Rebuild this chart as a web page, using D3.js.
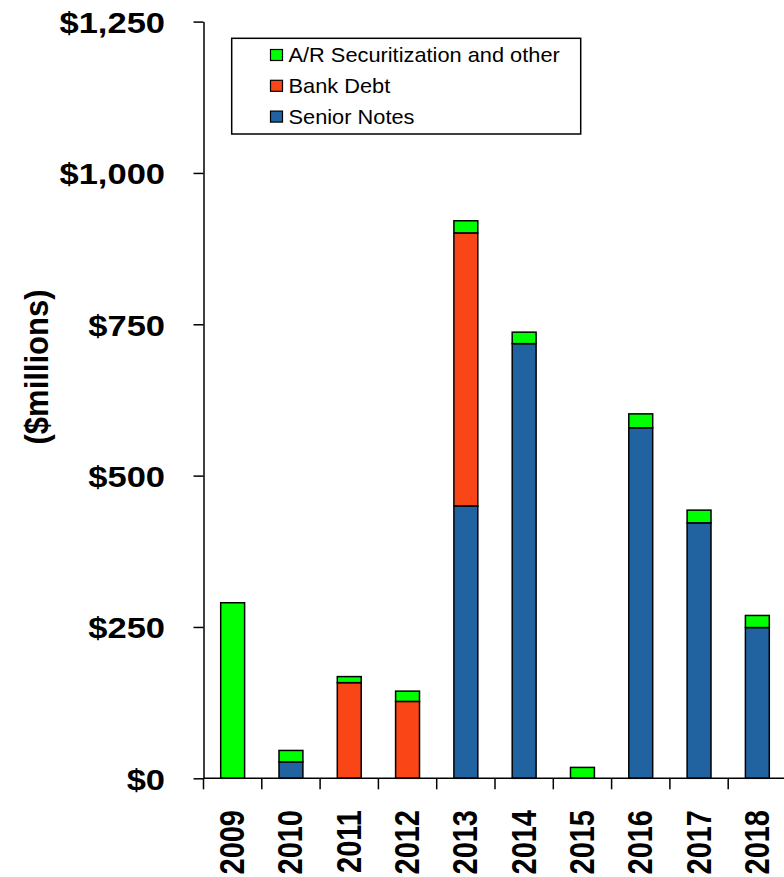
<!DOCTYPE html>
<html>
<head>
<meta charset="utf-8">
<script src="https://cdn.jsdelivr.net/npm/d3@7/dist/d3.min.js"></script>
<style>
  html, body { margin: 0; padding: 0; background: #fff; }
  svg { display: block; font-family: "Liberation Sans", Arial, sans-serif; }
</style>
</head>
<body>
<svg id="chart" width="784" height="877"></svg>
<script>
// Debt maturities by year, $ millions
const years = ["2009", "2010", "2011", "2012", "2013", "2014", "2015", "2016", "2017", "2018"];
const seniorNotes = [0, 27, 0, 0, 450, 718, 0, 579, 422, 249];
const bankDebt    = [0, 0, 158, 127, 451, 0, 0, 0, 0, 0];
const arOther     = [290, 19, 10, 17, 20, 19, 18, 23, 21, 20];
const yTicks = [0, 250, 500, 750, 1000, 1250];
const seriesNames = ["Senior Notes", "Bank Debt", "A/R Securitization and other"];
const seriesColors = ["#2162a1", "#fa4616", "#00ff00"];

const svg = d3.select("#chart");

const x0 = 203.5, yBottom = 778.3, yTop = 21.6;
const step = 58.3;

const x = d3.scaleBand().domain(years).range([x0, x0 + step * years.length]).padding(0);
const y = d3.scaleLinear().domain([0, 1250]).range([yBottom, yTop]);
const barW = x.bandwidth() * 0.41;

// stacked data
const rows = years.map((yr, i) => ({ year: yr, "Senior Notes": seniorNotes[i], "Bank Debt": bankDebt[i], "A/R Securitization and other": arOther[i] }));
const stack = d3.stack().keys(seriesNames);
const layers = stack(rows);

const bars = svg.append("g");
layers.forEach((layer, li) => {
  bars.selectAll(null)
    .data(layer.filter(d => d[1] - d[0] > 0))
    .join("rect")
    .attr("x", d => x(d.data.year) + (x.bandwidth() - barW) / 2)
    .attr("y", d => y(d[1]))
    .attr("width", barW)
    .attr("height", d => y(d[0]) - y(d[1]))
    .attr("fill", seriesColors[li])
    .attr("stroke", "#000")
    .attr("stroke-width", 1.5);
});

// y axis
const fmt = v => "$" + d3.format(",")(v);
const yAxis = svg.append("g")
  .attr("transform", `translate(${x0},0)`)
  .call(d3.axisLeft(y).tickValues(yTicks).tickSize(10).tickPadding(28.5).tickFormat(fmt).tickSizeOuter(0));
yAxis.select(".domain").attr("stroke", "#000").attr("stroke-width", 1.5);
yAxis.selectAll(".tick line").attr("stroke", "#000").attr("stroke-width", 1.5);
yAxis.selectAll(".tick text")
  .attr("x", 0)
  .attr("dy", "0.36em")
  .attr("transform", "translate(-38.5,0) scale(1.15,1)")
  .style("font-size", "30px")
  .style("font-weight", "bold")
  .attr("fill", "#000");

// x axis: baseline and category boundary ticks
const xAxis = svg.append("g");
xAxis.append("line")
  .attr("x1", x0).attr("x2", 784)
  .attr("y1", y(0)).attr("y2", y(0))
  .attr("stroke", "#000").attr("stroke-width", 1.5);
xAxis.selectAll(".xt")
  .data(years)
  .join("line")
  .attr("x1", d => x(d)).attr("x2", d => x(d))
  .attr("y1", y(0)).attr("y2", y(0) + 11)
  .attr("stroke", "#000").attr("stroke-width", 1.5);
xAxis.selectAll(".xl")
  .data(years)
  .join("text")
  .attr("transform", d => `translate(${x(d) + x.bandwidth() / 2 - 1},810) scale(1.2,1) rotate(-90)`)
  .attr("text-anchor", "end")
  .attr("dy", "0.36em")
  .style("font-size", "29px")
  .style("font-weight", "bold")
  .attr("fill", "#000")
  .text(d => d);

// y axis title
svg.append("text")
  .attr("transform", "translate(36,367) scale(1.1,1) rotate(-90)")
  .attr("text-anchor", "middle")
  .attr("dy", "0.36em")
  .style("font-size", "31px")
  .style("font-weight", "bold")
  .attr("fill", "#000")
  .text("($millions)");

// legend
const legend = svg.append("g");
legend.append("rect")
  .attr("x", 231.7).attr("y", 38.3)
  .attr("width", 349).attr("height", 95.7)
  .attr("fill", "#fff").attr("stroke", "#000").attr("stroke-width", 1.5);
const legendOrder = [2, 1, 0];
legendOrder.forEach((si, i) => {
  const cy = 55 + i * 30.8;
  legend.append("rect")
    .attr("x", 270.5).attr("y", cy - 5.5)
    .attr("width", 12).attr("height", 11)
    .attr("fill", seriesColors[si]).attr("stroke", "#000").attr("stroke-width", 1.2);
  legend.append("text")
    .attr("transform", `translate(288.5,${cy + 7}) scale(1.09,1)`)
    .style("font-size", "20px")
    .attr("fill", "#000")
    .text(seriesNames[si]);
});
</script>
</body>
</html>
